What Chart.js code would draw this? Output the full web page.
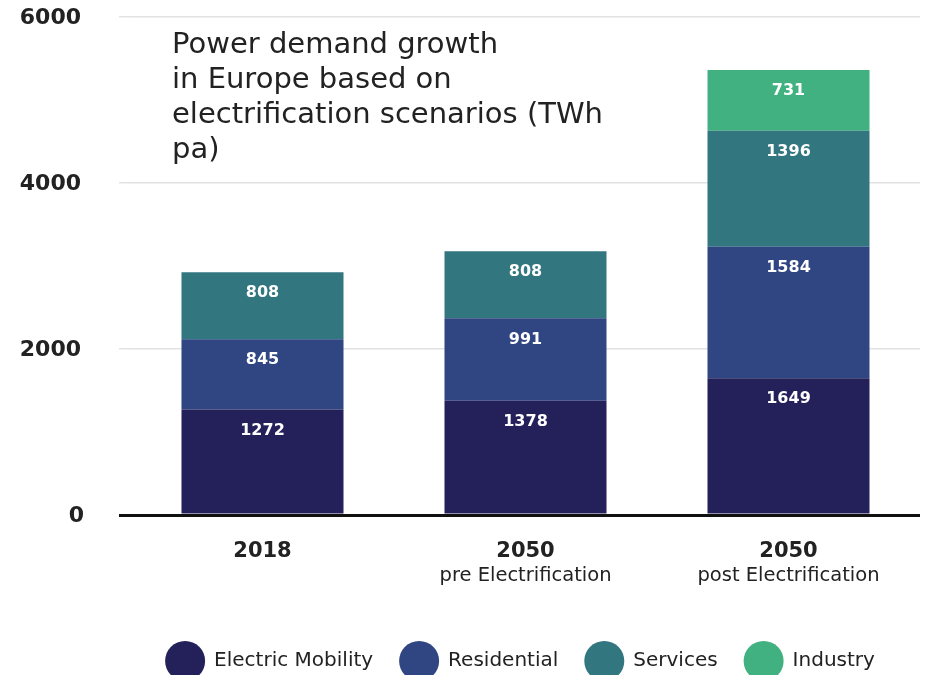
<!DOCTYPE html>
<html>
<head>
<meta charset="utf-8">
<script src="https://cdn.jsdelivr.net/npm/chart.js@4.4.1/dist/chart.umd.min.js"></script>
<style>
  html, body { margin: 0; padding: 0; background: #fff; }
  #wrap { width: 926px; height: 675px; position: relative; }
</style>
</head>
<body>
<div id="wrap"><canvas id="chart"></canvas></div>
<script>
// data
const categories = ['2018', '2050', '2050'];
const subLabels = ['', 'pre Electrification', 'post Electrification'];
const electricMobility = [1272, 1378, 1649];
const residential = [845, 991, 1584];
const services = [808, 808, 1396];
const industry = [null, null, 731];
const yTicks = [0, 2000, 4000, 6000];
const titleLines = ['Power demand growth', 'in Europe based on', 'electrification scenarios (TWh', 'pa)'];

const FONT = '"DejaVu Sans", sans-serif';
const TEXT = '#222222';

// value labels near the top of every segment
const segmentLabels = {
  id: 'segmentLabels',
  afterDatasetsDraw(chart) {
    const ctx = chart.ctx;
    ctx.save();
    ctx.font = 'bold 16px ' + FONT;
    ctx.fillStyle = '#ffffff';
    ctx.textAlign = 'center';
    ctx.textBaseline = 'middle';
    chart.data.datasets.forEach((ds, i) => {
      const meta = chart.getDatasetMeta(i);
      meta.data.forEach((bar, j) => {
        const v = ds.data[j];
        if (v == null) return;
        ctx.fillText(String(v), bar.x, bar.y + 21);
      });
    });
    ctx.restore();
  }
};

// y tick labels, right aligned, well left of the tick marks
const yLabels = {
  id: 'yLabels',
  afterDraw(chart) {
    const ctx = chart.ctx;
    const y = chart.scales.y;
    ctx.save();
    ctx.fillStyle = TEXT;
    ctx.font = 'bold 22px ' + FONT;
    ctx.textAlign = 'right';
    ctx.textBaseline = 'middle';
    yTicks.forEach(v => {
      ctx.fillText(String(v), v === 0 ? 84 : 81, y.getPixelForValue(v) + 1);
    });
    ctx.restore();
  }
};

// two-line category labels under the axis
const categoryLabels = {
  id: 'categoryLabels',
  afterDraw(chart) {
    const ctx = chart.ctx;
    const x = chart.scales.x;
    const bottom = chart.chartArea.bottom;
    ctx.save();
    ctx.fillStyle = TEXT;
    ctx.textAlign = 'center';
    ctx.textBaseline = 'alphabetic';
    categories.forEach((c, i) => {
      const px = x.getPixelForValue(i);
      ctx.font = 'bold 21px ' + FONT;
      ctx.fillText(c, px, bottom + 42);
      if (subLabels[i]) {
        ctx.font = '19.5px ' + FONT;
        ctx.fillText(subLabels[i], px, bottom + 66);
      }
    });
    ctx.restore();
  }
};

// title text inside the plot area
const innerTitle = {
  id: 'innerTitle',
  afterDraw(chart) {
    const ctx = chart.ctx;
    ctx.save();
    ctx.fillStyle = TEXT;
    ctx.font = '29px ' + FONT;
    ctx.textAlign = 'left';
    ctx.textBaseline = 'alphabetic';
    titleLines.forEach((line, i) => {
      ctx.fillText(line, 172, 53 + i * 35);
    });
    ctx.restore();
  }
};

// legend with big round swatches at the bottom
const bottomLegend = {
  id: 'bottomLegend',
  afterDraw(chart) {
    const ctx = chart.ctx;
    const d = 40, gap = 9, spacing = 26, cy = 661;
    ctx.save();
    ctx.font = '20px ' + FONT;
    const items = chart.data.datasets.map(ds => ({
      label: ds.label,
      color: ds.backgroundColor,
      w: ctx.measureText(ds.label).width
    }));
    const total = items.reduce((s, it) => s + d + gap + it.w, 0) + spacing * (items.length - 1);
    let x = 520 - total / 2;
    ctx.textBaseline = 'middle';
    ctx.textAlign = 'left';
    items.forEach(it => {
      ctx.fillStyle = it.color;
      ctx.beginPath();
      ctx.arc(x + d / 2, cy, d / 2, 0, Math.PI * 2);
      ctx.fill();
      ctx.fillStyle = TEXT;
      ctx.fillText(it.label, x + d + gap, cy);
      x += d + gap + it.w + spacing;
    });
    ctx.restore();
  }
};

new Chart(document.getElementById('chart'), {
  type: 'bar',
  data: {
    labels: categories,
    datasets: [
      { label: 'Electric Mobility', data: electricMobility, backgroundColor: '#24205a' },
      { label: 'Residential', data: residential, backgroundColor: '#304683' },
      { label: 'Services', data: services, backgroundColor: '#327680' },
      { label: 'Industry', data: industry, backgroundColor: '#41b181' }
    ]
  },
  options: {
    responsive: true,
    maintainAspectRatio: false,
    animation: false,
    layout: { padding: { top: 17, right: 6, bottom: 160, left: 10 } },
    datasets: {
      bar: { barPercentage: 0.616, categoryPercentage: 1, borderWidth: 0 }
    },
    plugins: {
      legend: { display: false },
      tooltip: { enabled: false },
      title: { display: false }
    },
    scales: {
      x: {
        stacked: true,
        display: false
      },
      y: {
        stacked: true,
        min: 0,
        max: 6000,
        afterBuildTicks: axis => { axis.ticks = yTicks.map(v => ({ value: v })); },
        afterFit: axis => { axis.width = 121; },
        border: { display: false },
        grid: {
          drawTicks: true,
          tickLength: 12,
          color: c => c.tick && c.tick.value === 0 ? '#111111' : '#e2e2e2',
          lineWidth: c => c.tick && c.tick.value === 0 ? 3 : 1.5
        },
        ticks: { display: false }
      }
    }
  },
  plugins: [segmentLabels, yLabels, categoryLabels, innerTitle, bottomLegend]
});
</script>
</body>
</html>
